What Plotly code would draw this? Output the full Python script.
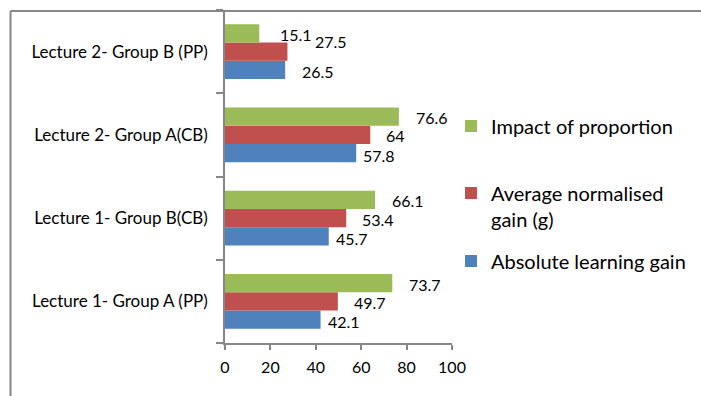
import plotly.graph_objects as go

# Categories, bottom to top as they appear on the axis
categories = [
    "Lecture 1- Group A (PP)",
    "Lecture 1- Group B(CB)",
    "Lecture 2- Group A(CB)",
    "Lecture 2- Group B (PP)",
]

absolute_gain = [42.1, 45.7, 57.8, 26.5]
normalised_gain = [49.7, 53.4, 64.0, 27.5]
impact_of_proportion = [73.7, 66.1, 76.6, 15.1]

x_ticks = [0, 20, 40, 60, 80, 100]

FONT = "Lato"
GREY = "#868686"
W, H = 701, 396
ML, MR, MT, MB = 225, 249, 10, 53
PW, PH = W - ML - MR, H - MT - MB

series = [
    ("Absolute learning gain", absolute_gain, "#4F81BD", "legend3"),
    ("Average normalised<br>gain (g)", normalised_gain, "#C0504D", "legend2"),
    ("Impact of proportion", impact_of_proportion, "#9BBB59", "legend"),
]

fig = go.Figure()
for name, vals, color, leg in series:
    fig.add_trace(go.Bar(
        y=categories, x=vals, name=name, orientation="h",
        marker=dict(color=color, line=dict(width=0)),
        legend=leg,
    ))

# Data labels sit just right of each bar end; per-series nudge in px
BAR_STEP = 0.22  # category units between neighbouring bars in a group
label_nudge = {0: (5, -2), 1: (14, -1), 2: (15, -1)}
special_nudge = {(3, 2): (19, -1), (3, 1): (26, 10), (3, 0): (15, -2)}

annotations = []
for si, (name, vals, color, leg) in enumerate(series):
    for ci, v in enumerate(vals):
        dx, dy = special_nudge.get((ci, si), label_nudge[si])
        annotations.append(dict(
            x=v, y=ci + (si - 1) * BAR_STEP, xref="x", yref="y",
            text=f"{v:g}", showarrow=False, xanchor="left", yanchor="middle",
            xshift=dx, yshift=dy,
            font=dict(family=FONT, size=16, color="#000000"),
        ))


def px_x(p):
    return (p - ML) / PW


def px_y(p):
    return (H - MB - p) / PH


shapes = [
    # chart area frame (top and left edges)
    dict(type="line", xref="paper", yref="paper",
         x0=px_x(10.5), x1=px_x(705), y0=px_y(11), y1=px_y(11),
         line=dict(color=GREY, width=2)),
    dict(type="line", xref="paper", yref="paper",
         x0=px_x(10.5), x1=px_x(10.5), y0=px_y(11), y1=px_y(400),
         line=dict(color=GREY, width=2)),
]

legend_common = dict(
    xref="container", yref="container", xanchor="left", yanchor="middle",
    font=dict(family=FONT, size=20, color="#000000"),
    bgcolor="rgba(0,0,0,0)", borderwidth=0, valign="top",
    itemclick=False, itemdoubleclick=False,
)

fig.update_layout(
    width=W, height=H,
    margin=dict(l=ML, r=MR, t=MT, b=MB, pad=0, autoexpand=False),
    paper_bgcolor="white", plot_bgcolor="white",
    barmode="group", bargap=0.34, bargroupgap=0,
    font=dict(family=FONT, size=16, color="#000000"),
    showlegend=True,
    legend=dict(x=451 / W, y=1 - 126 / H, **legend_common),
    legend2=dict(x=451 / W, y=1 - 206 / H, **legend_common),
    legend3=dict(x=451 / W, y=1 - 261 / H, **legend_common),
    xaxis=dict(
        range=[0, 100], tickvals=x_ticks, ticks="outside", ticklen=5,
        tickcolor=GREY, tickwidth=1.5, showline=True, linecolor=GREY,
        linewidth=1.5, showgrid=False, zeroline=False, automargin=False,
        tickfont=dict(family=FONT, size=16, color="#000000"),
        ticklabelstandoff=4, fixedrange=True,
    ),
    yaxis=dict(
        type="category", categoryorder="array", categoryarray=categories,
        ticks="outside", tickson="boundaries", ticklen=7, tickcolor=GREY,
        tickwidth=1.5, showline=True, linecolor=GREY, linewidth=1.5,
        showgrid=False, zeroline=False, automargin=False,
        tickfont=dict(family=FONT, size=17, color="#000000"),
        ticklabelstandoff=12, fixedrange=True,
    ),
    annotations=annotations,
    shapes=shapes,
)

fig.write_html("out.html", config=dict(displayModeBar=False))
